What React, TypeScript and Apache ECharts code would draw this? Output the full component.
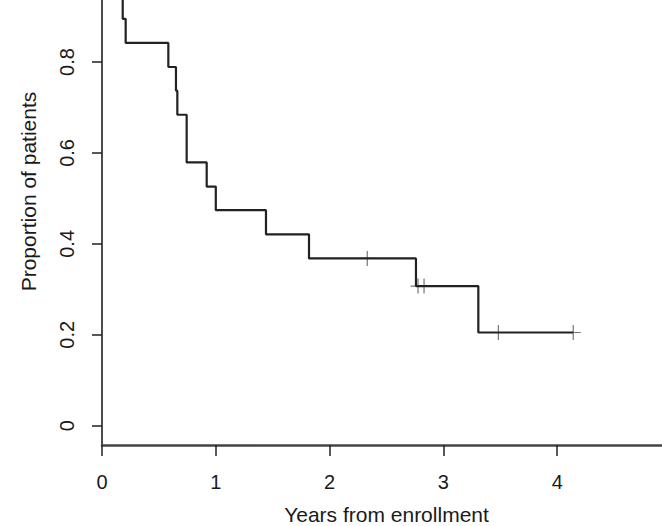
import React, { useEffect, useRef } from "react";
import * as echarts from "echarts";

// Kaplan-Meier estimate
const eventTimes = [0, 0.16, 0.182, 0.208, 0.583, 0.65, 0.662, 0.744, 0.92, 1.0, 1.441, 1.819, 2.759, 3.307];
const survival = [1, 0.947, 0.895, 0.842, 0.789, 0.737, 0.684, 0.579, 0.526, 0.474, 0.421, 0.368, 0.307, 0.205];
const followUpEnd = 4.141;
const censorTimes = [2.331, 2.777, 2.83, 3.483, 4.141];
const censorSurvival = [0.368, 0.307, 0.307, 0.205, 0.205];
const xTicks = [0, 1, 2, 3, 4];
const yTicks = [0, 0.2, 0.4, 0.6, 0.8];
const xTitle = "Years from enrollment";
const yTitle = "Proportion of patients";

const FONT = "'Liberation Sans', Arial, Helvetica, sans-serif";

export default function App() {
  const ref = useRef<HTMLDivElement>(null);
  useEffect(() => {
    if (!ref.current) return;
    const chart = echarts.init(ref.current, null, { renderer: "svg" });
    const curve = eventTimes.map((t, i) => [t, survival[i]]);
    curve.push([followUpEnd, survival[survival.length - 1]]);
    const censors = censorTimes.map((t, i) => [t, censorSurvival[i]]);
    chart.setOption({
      animation: false,
      backgroundColor: "#ffffff",
      grid: { left: 102, top: 0, width: 560, height: 445, containLabel: false },
      xAxis: {
        type: "value",
        min: 0,
        max: 4.921,
        axisLine: { show: true, onZero: false, lineStyle: { color: "#444", width: 2.5 } },
        axisTick: { show: true, length: 11, customValues: xTicks, lineStyle: { color: "#222", width: 1.5 } },
        axisLabel: {
          customValues: xTicks,
          margin: 27,
          fontSize: 20,
          fontFamily: FONT,
          color: "#1a1a1a",
          formatter: (v: number) => String(v),
        },
        splitLine: { show: false },
      },
      yAxis: {
        type: "value",
        min: -0.0425,
        max: 0.9364,
        axisLine: { show: true, onZero: false, lineStyle: { color: "#111", width: 1.5 } },
        axisTick: { show: true, length: 10, customValues: yTicks, lineStyle: { color: "#222", width: 1.5 } },
        axisLabel: {
          customValues: yTicks,
          rotate: 90,
          margin: 25,
          fontSize: 20,
          fontFamily: FONT,
          color: "#1a1a1a",
          formatter: (v: number) => (v === 0 ? "0" : v.toFixed(1)),
        },
        splitLine: { show: false },
      },
      graphic: [
        {
          type: "text",
          x: 386.5,
          y: 514,
          style: { text: xTitle, font: `21px ${FONT}`, fill: "#1a1a1a", align: "center", verticalAlign: "middle" },
        },
        {
          type: "text",
          x: 28,
          y: 191.5,
          rotation: Math.PI / 2,
          style: { text: yTitle, font: `21px ${FONT}`, fill: "#1a1a1a", align: "center", verticalAlign: "middle" },
        },
      ],
      series: [
        {
          type: "line",
          data: curve,
          step: "end",
          symbol: "none",
          clip: true,
          lineStyle: { color: "#222", width: 2.2 },
        },
        {
          type: "scatter",
          data: censors,
          symbol: "path://M0,-1L0,1M-1,0L1,0",
          symbolSize: [15, 15],
          itemStyle: { color: "transparent", borderColor: "#555", borderWidth: 1.2 },
        },
      ],
    });
    return () => chart.dispose();
  }, []);
  return (
    <div
      ref={ref}
      style={{ position: "fixed", left: 0, top: 0, width: 662, height: 526, background: "#fff" }}
    />
  );
}
